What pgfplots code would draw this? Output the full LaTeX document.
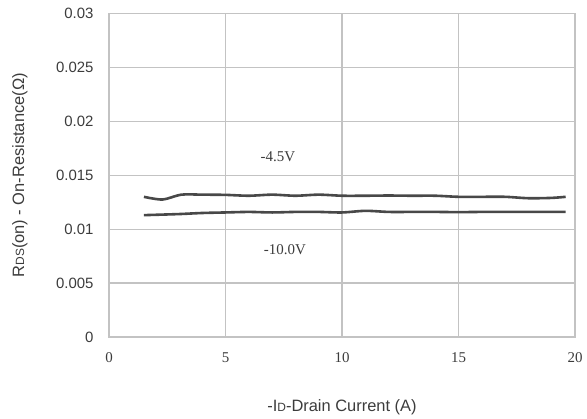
\documentclass[border=0pt]{standalone}
\usepackage{pgfplots}
\pgfplotsset{compat=1.18}
\usepackage{fontspec}
\setmainfont{Liberation Sans}
\newfontfamily\seriffont{Liberation Serif}
\definecolor{gridgray}{RGB}{195,195,195}
\definecolor{curve}{RGB}{72,72,72}
\definecolor{txt}{RGB}{60,60,60}
\begin{document}
\begin{tikzpicture}
\begin{axis}[
  at={(0,0)}, anchor=south west,
  scale only axis,
  width=466bp, height=323.5bp,
  xmin=0, xmax=20, ymin=0, ymax=0.03,
  scaled y ticks=false, scaled x ticks=false,
  xtick={0,5,10,15,20},
  xticklabels={0,5,10,15,20},
  ytick={0,0.005,0.01,0.015,0.02,0.025,0.03},
  yticklabels={0,0.005,0.01,0.015,0.02,0.025,0.03},
  grid=major,
  major grid style={gridgray, line width=1.3pt},
  axis line style={gridgray, line width=1.3pt},
  tick style={draw=none},
  xticklabel style={font=\seriffont\fontsize{15}{17}\selectfont, text=txt, yshift=-12bp},
  yticklabel style={font=\fontsize{15}{17}\selectfont, text=txt, xshift=-12bp},
  xlabel={-I{\fontsize{12}{14}\selectfont D}-Drain Current (A)},
  ylabel={R{\fontsize{12}{14}\selectfont DS}(on) - On-Resistance(Ω)},
  label style={font=\fontsize{16.5}{19}\selectfont, text=txt},
  xlabel style={at={(axis description cs:0.5,0)}, anchor=center, yshift=-70bp},
  ylabel style={at={(axis description cs:-0.191,0.5)}, anchor=center},
  clip=false,
]
\addplot[curve, line width=2.6bp, smooth] coordinates {
 (1.5,0.0130) (2.3,0.01275) (3.1,0.0132) (4,0.0132) (5,0.01318) (6,0.0131)
 (7,0.0132) (8,0.0131) (9,0.0132) (10,0.0131) (11,0.0131) (12,0.01312)
 (13,0.0131) (14,0.0131) (15,0.0130) (16,0.0130) (17,0.0130) (18,0.01287)
 (19,0.0129) (19.6,0.0130)
};
\addplot[curve, line width=2.6bp, smooth] coordinates {
 (1.5,0.0113) (3,0.0114) (4,0.0115) (5,0.01155) (6,0.0116) (7,0.01155)
 (8,0.0116) (9,0.0116) (10,0.01155) (11,0.0117) (12,0.0116) (13,0.0116)
 (14,0.0116) (15,0.01158) (16,0.0116) (17,0.0116) (18,0.0116) (19,0.0116)
 (19.6,0.0116)
};
\node[font=\seriffont\fontsize{15}{17}\selectfont, text=txt] at (axis cs:7.25,0.0167) {-4.5V};
\node[font=\seriffont\fontsize{15}{17}\selectfont, text=txt] at (axis cs:7.55,0.00807) {-10.0V};
\end{axis}
\pgfresetboundingbox
\path[use as bounding box] (-109bp,-82bp) rectangle (478bp,337bp);
\end{tikzpicture}
\end{document}
